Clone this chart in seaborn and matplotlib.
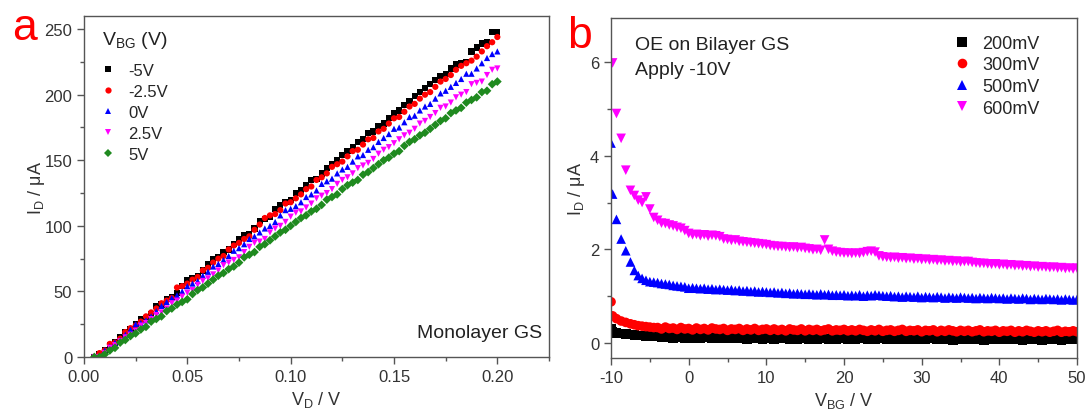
import numpy as np
import pandas as pd
import matplotlib
matplotlib.use('Agg')
import matplotlib.pyplot as plt
import seaborn as sns
from matplotlib.ticker import MultipleLocator

sns.set_style('ticks')
plt.rcParams['font.family'] = ['Liberation Sans', 'DejaVu Sans']
plt.rcParams['mathtext.fontset'] = 'custom'
plt.rcParams['mathtext.rm'] = 'Liberation Sans'
plt.rcParams['mathtext.it'] = 'Liberation Sans:italic'
plt.rcParams['mathtext.default'] = 'regular'
plt.rcParams['axes.unicode_minus'] = False

# ---- panel a: output curves of monolayer GS, I_D (uA) vs V_D (V)
v_d = np.round(np.arange(0.005, 0.2001, 0.0025), 4)
vbg_labels = ['-5V', '-2.5V', '0V', '2.5V', '5V']

id_m5 = [0, 2, 5, 9, 11, 15, 19, 21, 25, 29,
         30, 33, 39, 40, 44, 46, 49, 54, 59, 60,
         62, 66, 71, 75, 76, 80, 82, 86, 90, 93,
         94, 98, 104, 105, 107, 113, 116, 118, 120, 125,
         127, 131, 135, 136, 140, 144, 147, 150, 154, 157,
         160, 164, 166, 171, 172, 176, 178, 182, 186, 188,
         192, 195, 199, 202, 205, 208, 211, 214, 216, 220,
         223, 224, 225, 233, 236, 239, 240, 248, 248]
id_m25 = [0, 3, 5, 10, 11, 14, 19, 22, 24, 27,
          31, 34, 37, 41, 43, 45, 53, 54, 56, 59,
          61, 66, 68, 72, 75, 77, 82, 85, 87, 90,
          92, 97, 101, 106, 108, 109, 112, 117, 118, 121,
          124, 128, 130, 135, 137, 140, 145, 147, 149, 153,
          157, 158, 162, 166, 167, 172, 174, 178, 182, 183,
          187, 191, 193, 197, 200, 202, 206, 210, 212, 215,
          219, 222, 224, 226, 229, 233, 237, 240, 244]
id_0 = [0, 1, 5, 8, 11, 13, 17, 21, 25, 26,
        28, 31, 35, 39, 42, 45, 47, 50, 54, 56,
        58, 62, 65, 69, 71, 74, 77, 81, 83, 86,
        90, 92, 95, 98, 100, 103, 108, 112, 113, 115,
        118, 122, 124, 127, 132, 134, 136, 140, 143, 145,
        149, 153, 154, 158, 160, 164, 167, 170, 174, 175,
        179, 183, 184, 188, 191, 193, 197, 201, 203, 206,
        209, 212, 216, 216, 220, 224, 228, 231, 233]
id_p25 = [0, 0, 3, 7, 9, 12, 15, 17, 20, 24,
          26, 29, 32, 34, 37, 41, 43, 46, 49, 51,
          55, 58, 60, 63, 66, 70, 72, 74, 76, 80,
          84, 87, 88, 90, 95, 98, 100, 103, 107, 110,
          111, 114, 117, 121, 123, 125, 128, 132, 135, 137,
          140, 144, 146, 148, 151, 155, 158, 160, 163, 166,
          169, 171, 174, 178, 180, 183, 186, 190, 191, 194,
          198, 200, 202, 208, 209, 210, 215, 219, 220]
id_p5 = [0, 0, 2, 5, 7, 11, 13, 16, 18, 21,
         23, 27, 29, 31, 35, 37, 40, 42, 44, 48,
         51, 53, 56, 59, 62, 64, 67, 69, 72, 76,
         78, 80, 84, 86, 89, 92, 95, 97, 100, 103,
         106, 108, 111, 113, 116, 120, 122, 124, 128, 131,
         133, 135, 139, 141, 144, 147, 150, 152, 155, 157,
         161, 164, 166, 169, 171, 174, 177, 180, 182, 186,
         188, 190, 194, 196, 198, 202, 203, 208, 210]

# ---- panel b: transfer curves of bilayer GS, I_D (uA) vs V_BG (V)
vbg_start = [-10.0, -9.8, -9.3, -8.7, -8.1, -7.5, -7.0, -6.5, -6.0, -5.5, -5.0, -4.5]
v_bg = np.concatenate([vbg_start, np.arange(-4.0, 50.01, 0.5)])
vd_labels = ['200mV', '300mV', '500mV', '600mV']

id_200 = [0.30, 0.24, 0.22, 0.20, 0.19, 0.18, 0.17, 0.16, 0.16, 0.15, 0.15, 0.14,
          0.14, 0.12, 0.15, 0.13, 0.11, 0.14, 0.12, 0.10, 0.13, 0.11,
          0.13, 0.10, 0.12, 0.14, 0.11, 0.12, 0.10, 0.13, 0.11, 0.12,
          0.10, 0.13, 0.11, 0.09, 0.12, 0.10, 0.12, 0.09, 0.11, 0.12,
          0.09, 0.11, 0.10, 0.12, 0.08, 0.11, 0.09, 0.12, 0.10, 0.08,
          0.11, 0.09, 0.12, 0.10, 0.08, 0.11, 0.09, 0.12, 0.10, 0.09,
          0.11, 0.08, 0.10, 0.12, 0.09, 0.11, 0.08, 0.10, 0.12, 0.09,
          0.10, 0.08, 0.11, 0.09, 0.12, 0.08, 0.10, 0.09, 0.11, 0.08,
          0.10, 0.12, 0.08, 0.10, 0.09, 0.11, 0.07, 0.10, 0.09, 0.11,
          0.08, 0.10, 0.09, 0.11, 0.07, 0.10, 0.08, 0.11, 0.09, 0.08,
          0.10, 0.08, 0.11, 0.09, 0.07, 0.10, 0.08, 0.11, 0.09, 0.07,
          0.10, 0.08, 0.09, 0.11, 0.07, 0.09, 0.08, 0.10, 0.08]
id_300 = [0.88, 0.58, 0.52, 0.47, 0.44, 0.41, 0.39, 0.37, 0.36, 0.35, 0.34, 0.33,
          0.33, 0.30, 0.34, 0.31, 0.32, 0.29, 0.33, 0.30, 0.31, 0.28,
          0.32, 0.29, 0.31, 0.28, 0.32, 0.30, 0.29, 0.31, 0.27, 0.30,
          0.29, 0.31, 0.27, 0.30, 0.28, 0.31, 0.27, 0.29, 0.30, 0.27,
          0.30, 0.27, 0.29, 0.26, 0.30, 0.28, 0.27, 0.30, 0.26, 0.29,
          0.27, 0.29, 0.26, 0.28, 0.30, 0.26, 0.28, 0.27, 0.29, 0.26,
          0.28, 0.26, 0.29, 0.27, 0.25, 0.28, 0.26, 0.29, 0.25, 0.27,
          0.28, 0.25, 0.27, 0.29, 0.25, 0.27, 0.26, 0.28, 0.24, 0.27,
          0.26, 0.28, 0.24, 0.27, 0.25, 0.28, 0.26, 0.24, 0.27, 0.25,
          0.27, 0.24, 0.26, 0.28, 0.24, 0.26, 0.25, 0.27, 0.23, 0.26,
          0.25, 0.27, 0.23, 0.26, 0.24, 0.27, 0.25, 0.23, 0.26, 0.24,
          0.26, 0.23, 0.25, 0.27, 0.23, 0.25, 0.24, 0.26, 0.24]
id_500 = [4.27, 3.18, 2.64, 2.22, 1.97, 1.73, 1.55, 1.44, 1.38, 1.34, 1.31, 1.30,
          1.29, 1.27, 1.26, 1.25, 1.23, 1.22, 1.21, 1.20, 1.17, 1.18,
          1.17, 1.16, 1.17, 1.15, 1.16, 1.14, 1.15, 1.14, 1.13, 1.14,
          1.12, 1.13, 1.11, 1.12, 1.10, 1.11, 1.09, 1.10, 1.09, 1.08,
          1.09, 1.07, 1.08, 1.06, 1.07, 1.05, 1.06, 1.05, 1.04, 1.05,
          1.04, 1.03, 1.05, 1.03, 1.04, 1.02, 1.03, 1.02, 1.03, 1.01,
          1.02, 1.01, 1.03, 1.00, 1.02, 1.01, 1.03, 1.02, 1.01, 1.00,
          1.01, 0.99, 1.00, 0.98, 1.00, 0.99, 0.98, 1.00, 0.97, 0.99,
          0.98, 0.97, 0.99, 0.98, 0.96, 0.98, 0.97, 0.96, 0.98, 0.97,
          0.96, 0.97, 0.95, 0.97, 0.96, 0.95, 0.97, 0.96, 0.95, 0.96,
          0.94, 0.96, 0.95, 0.94, 0.96, 0.95, 0.93, 0.95, 0.94, 0.93,
          0.95, 0.94, 0.93, 0.94, 0.92, 0.94, 0.93, 0.92, 0.93]
id_600 = [np.nan, 5.98, 4.90, 4.37, 3.69, 3.26, 3.15, 3.05, 3.00, 3.12, 2.86, 2.68,
          2.62, 2.56, 2.55, 2.52, 2.50, 2.47, 2.45, 2.40, 2.34, 2.31,
          2.32, 2.29, 2.31, 2.28, 2.30, 2.29, 2.27, 2.22, 2.21, 2.19,
          2.20, 2.17, 2.16, 2.15, 2.14, 2.13, 2.12, 2.11, 2.10, 2.08,
          2.07, 2.06, 2.06, 2.05, 2.04, 2.05, 2.03, 2.04, 2.02, 2.01,
          1.99, 2.00, 1.98, 2.20, 2.00, 1.96, 1.94, 1.93, 1.92, 1.92,
          1.91, 1.92, 1.91, 1.93, 1.95, 1.96, 1.94, 1.86, 1.84, 1.83,
          1.82, 1.83, 1.81, 1.82, 1.80, 1.81, 1.79, 1.80, 1.78, 1.79,
          1.77, 1.78, 1.76, 1.77, 1.75, 1.76, 1.74, 1.75, 1.73, 1.74,
          1.74, 1.72, 1.71, 1.70, 1.70, 1.69, 1.68, 1.69, 1.67, 1.68,
          1.66, 1.67, 1.65, 1.66, 1.64, 1.65, 1.63, 1.64, 1.62, 1.63,
          1.62, 1.61, 1.62, 1.60, 1.61, 1.59, 1.60, 1.58, 1.60]

# long-form tables for seaborn
df_a = pd.concat([pd.DataFrame({'V_D': v_d, 'I_D': vals, 'V_BG': lab})
                  for lab, vals in zip(vbg_labels, [id_m5, id_m25, id_0, id_p25, id_p5])])
df_b = pd.concat([pd.DataFrame({'V_BG': v_bg, 'I_D': vals, 'V_D': lab})
                  for lab, vals in zip(vd_labels, [id_200, id_300, id_500, id_600])]).dropna()

pal_a = dict(zip(vbg_labels, ['black', 'red', 'blue', 'magenta', '#1f8a1f']))
mk_a = dict(zip(vbg_labels, ['s', 'o', '^', 'v', 'D']))
pal_b = dict(zip(vd_labels, ['black', 'red', 'blue', 'magenta']))
mk_b = dict(zip(vd_labels, ['s', 'o', '^', 'v']))

fig = plt.figure(figsize=(10.88, 4.10), dpi=100)
ax1 = fig.add_axes([0.0772, 0.1268, 0.4274, 0.8317])
ax2 = fig.add_axes([0.5616, 0.1244, 0.4283, 0.8293])

spine_c = '#555555'
tick_c = '#333333'


def style_axes(ax):
    for sp in ax.spines.values():
        sp.set_visible(True)
        sp.set_color(spine_c)
        sp.set_linewidth(1.0)
    ax.tick_params(which='both', direction='out', color=spine_c, labelcolor=tick_c,
                   top=False, right=False, labelsize=12)
    ax.tick_params(which='major', length=5, width=1)
    ax.tick_params(which='minor', length=3, width=1)


# panel a
sns.scatterplot(data=df_a, x='V_D', y='I_D', hue='V_BG', style='V_BG',
                hue_order=vbg_labels, style_order=vbg_labels,
                palette=pal_a, markers=mk_a, s=20, linewidth=0, ax=ax1)
ax1.set_xlim(0, 0.225)
ax1.set_ylim(0, 260)
ax1.xaxis.set_major_locator(MultipleLocator(0.05))
ax1.xaxis.set_minor_locator(MultipleLocator(0.025))
ax1.yaxis.set_major_locator(MultipleLocator(50))
ax1.yaxis.set_minor_locator(MultipleLocator(25))
ax1.xaxis.set_major_formatter(matplotlib.ticker.FormatStrFormatter('%.2f'))
ax1.set_xlabel('V$_\\mathrm{D}$ / V', fontsize=13, color=tick_c)
ax1.set_ylabel('I$_\\mathrm{D}$ / μA', fontsize=13, color=tick_c, labelpad=-2)
style_axes(ax1)
# legend title is drawn as a separate text so the gap below it matches
sns.move_legend(ax1, 'upper left', bbox_to_anchor=(0.034, 0.862), frameon=False,
                title=None, fontsize=12, handlelength=1.0, handletextpad=0.7,
                labelspacing=0.36, borderpad=0, borderaxespad=0)
ax1.text(0.039, 0.918, 'V$_\\mathrm{BG}$ (V)', transform=ax1.transAxes,
         va='baseline', fontsize=14, color='#222222')
ax1.text(0.985, 0.058, 'Monolayer GS', transform=ax1.transAxes, ha='right',
         va='baseline', fontsize=14, color='#222222')

# panel b
sns.scatterplot(data=df_b, x='V_BG', y='I_D', hue='V_D', style='V_D',
                hue_order=vd_labels, style_order=vd_labels,
                palette=pal_b, markers=mk_b, s=48, linewidth=0, ax=ax2)
ax2.set_xlim(-10, 50)
ax2.set_ylim(-0.32, 6.94)
ax2.xaxis.set_major_locator(MultipleLocator(10))
ax2.xaxis.set_minor_locator(MultipleLocator(5))
ax2.yaxis.set_major_locator(MultipleLocator(2))
ax2.yaxis.set_minor_locator(MultipleLocator(1))
ax2.set_xlabel('V$_\\mathrm{BG}$ / V', fontsize=13, color=tick_c)
ax2.set_ylabel('I$_\\mathrm{D}$ / μA', fontsize=13, color=tick_c, labelpad=2)
style_axes(ax2)
sns.move_legend(ax2, 'upper left', bbox_to_anchor=(0.734, 0.950), frameon=False,
                title=None, fontsize=13, handlelength=1.0, handletextpad=0.6,
                labelspacing=0.25, borderpad=0, borderaxespad=0)
ax2.text(0.0515, 0.909, 'OE on Bilayer GS', transform=ax2.transAxes,
         va='baseline', fontsize=14, color='#222222')
ax2.text(0.0515, 0.835, 'Apply -10V', transform=ax2.transAxes,
         va='baseline', fontsize=14, color='#222222')

# panel letters
fig.text(0.011, 0.902, 'a', color='red', fontsize=32, va='baseline')
fig.text(0.521, 0.883, 'b', color='red', fontsize=32, va='baseline')

fig.savefig('out.png', dpi=100)
plt.close(fig)
